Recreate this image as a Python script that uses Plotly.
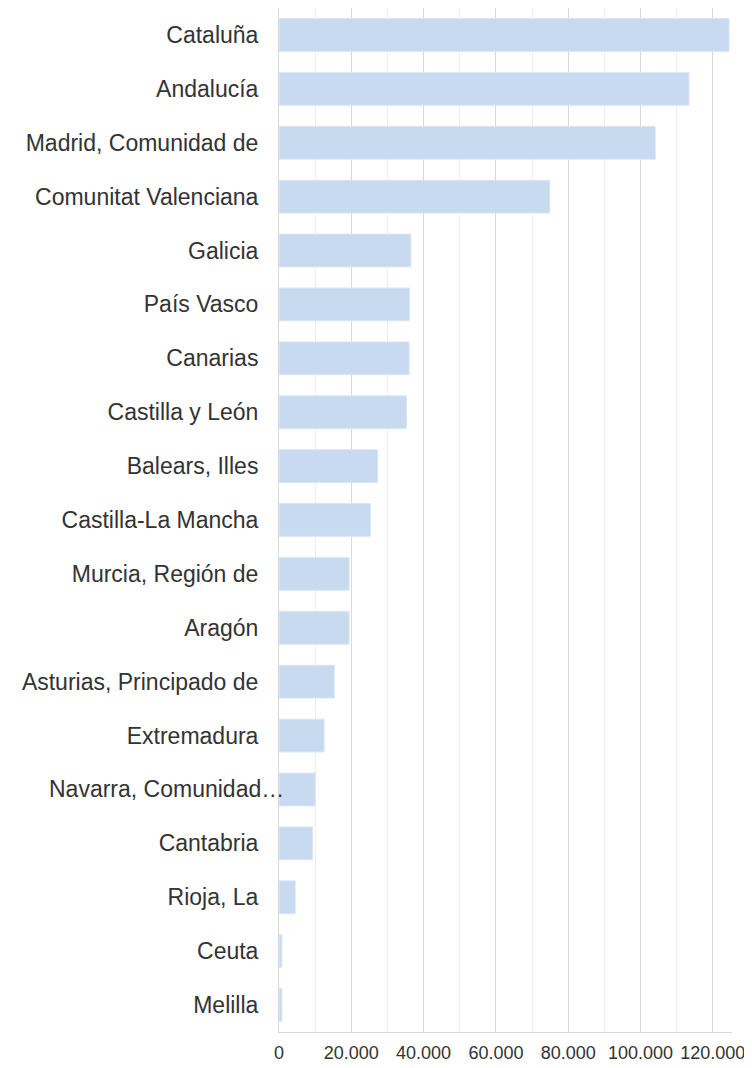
import plotly.graph_objects as go

regions = [
    "Cataluña", "Andalucía", "Madrid, Comunidad de", "Comunitat Valenciana",
    "Galicia", "País Vasco", "Canarias", "Castilla y León", "Balears, Illes",
    "Castilla-La Mancha", "Murcia, Región de", "Aragón",
    "Asturias, Principado de", "Extremadura", "Navarra, Comunidad…",
    "Cantabria", "Rioja, La", "Ceuta", "Melilla",
]
values = [
    124500, 113400, 104100, 74900,
    36500, 36100, 36000, 35300, 27300,
    25300, 19400, 19400,
    15300, 12500, 10000,
    9300, 4500, 800, 800,
]
x_ticks = [0, 20000, 40000, 60000, 80000, 100000, 120000]
truncated_label = "Navarra, Comunidad…"

fig = go.Figure(
    go.Bar(
        x=values,
        y=regions,
        orientation="h",
        width=0.61,
        marker=dict(color="#C8DAF0", line=dict(color="#DCE7F6", width=1)),
        hoverinfo="x+y",
    )
)

# The page body has an 8px margin, so the figure is sized/margined to compensate.
fig.update_layout(
    width=744,
    height=1060,
    margin=dict(l=271, r=20, t=0, b=36),
    paper_bgcolor="white",
    plot_bgcolor="white",
    separators=",.",
    showlegend=False,
    font=dict(family="Liberation Sans, Arial, sans-serif", color="#333333"),
)

fig.update_xaxes(
    range=[0, 125300],
    tickvals=x_ticks,
    tickformat=",d",
    tickfont=dict(size=18, color="#333333"),
    ticklabelstandoff=4,
    showgrid=True,
    gridcolor="#D9D9D9",
    gridwidth=1,
    minor=dict(dtick=10000, tick0=0, showgrid=True, gridcolor="#EFEFEF", gridwidth=1),
    showline=True,
    linecolor="#D9D9D9",
    linewidth=1,
    zeroline=False,
    ticks="",
    fixedrange=True,
)

ticktext = ["" if r == truncated_label else r for r in regions]
fig.update_yaxes(
    autorange="reversed",
    tickmode="array",
    tickvals=regions,
    ticktext=ticktext,
    tickfont=dict(size=23, color="#333333"),
    showline=True,
    linecolor="#D9D9D9",
    linewidth=1,
    showgrid=False,
    ticks="",
    ticklabelstandoff=15,
    fixedrange=True,
)

# Excel-style truncated label that runs slightly past the other labels
fig.add_annotation(
    x=0, y=truncated_label, xref="x", yref="y",
    text=truncated_label, showarrow=False,
    xanchor="right", xshift=7,
    font=dict(size=23, color="#333333"),
)

fig.write_html("out.html")
